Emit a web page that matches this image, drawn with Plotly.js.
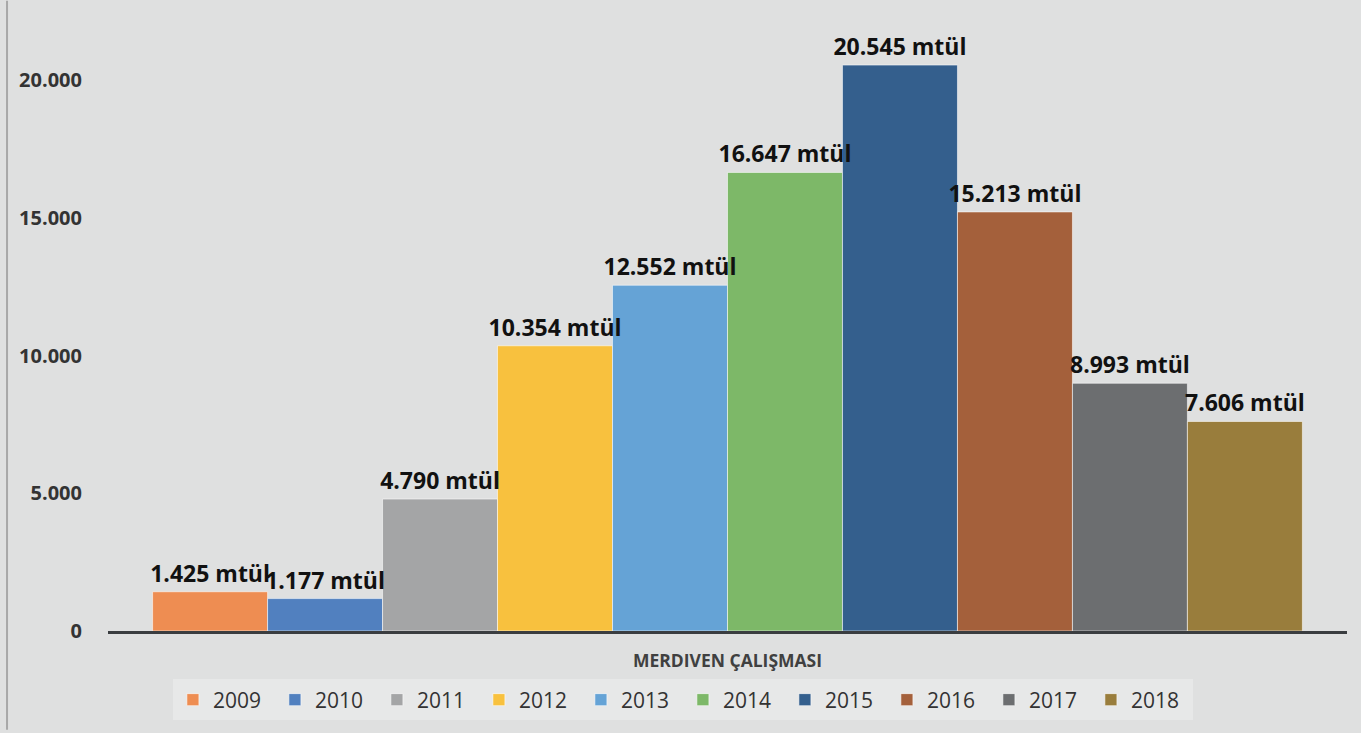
<!DOCTYPE html>
<html>
<head>
<meta charset="utf-8">
<script src="https://cdn.plot.ly/plotly-3.0.1.min.js"></script>
<style>
html,body{margin:0;padding:0;background:#e0e0e0;}
#chart{width:1361px;height:733px;}
</style>
</head>
<body>
<div id="chart"></div>
<script>
const category = ["MERDIVEN ÇALIŞMASI"];
const years = ["2009","2010","2011","2012","2013","2014","2015","2016","2017","2018"];
const values = [1425, 1177, 4790, 10354, 12552, 16647, 20545, 15213, 8993, 7606];
const labels = ["1.425 mtül","1.177 mtül","4.790 mtül","10.354 mtül","12.552 mtül","16.647 mtül","20.545 mtül","15.213 mtül","8.993 mtül","7.606 mtül"];
const colors = ["#EE8D52","#5180BF","#A4A5A6","#F8C13E","#65A3D6","#7DB868","#345F8D","#A4603B","#6C6E70","#997D3C"];
const yTickVals = [0, 5000, 10000, 15000, 20000];
const yTickText = ["0","5.000","10.000","15.000","20.000"];

// visible bars
const barTraces = years.map((y, i) => ({
  type: 'bar',
  name: y,
  x: category,
  y: [values[i]],
  marker: {color: colors[i], line: {color: 'rgba(255,255,255,0.55)', width: 1}},
  hoverinfo: 'skip'
}));

// same bars on an overlaying axis, transparent, carrying the value labels on top
const labelTraces = years.map((y, i) => ({
  type: 'bar',
  name: y,
  xaxis: 'x2',
  x: category,
  y: [values[i]],
  text: [labels[i]],
  textposition: 'outside',
  textfont: {family: 'Open Sans', size: 23, color: '#111111', weight: 700},
  constraintext: 'none',
  cliponaxis: false,
  showlegend: false,
  marker: {color: 'rgba(0,0,0,0)', line: {width: 0}},
  hoverinfo: 'skip'
}));

const layout = {
  width: 1361, height: 733,
  margin: {l: 108, r: 14, t: 25, b: 99},
  paper_bgcolor: '#dfe0e0',
  plot_bgcolor: 'rgba(0,0,0,0)',
  barmode: 'group',
  bargap: 0.072,
  bargroupgap: 0,
  font: {family: 'Open Sans', color: '#333333'},
  xaxis: {
    showline: true, linecolor: '#3a3d40', linewidth: 3,
    showgrid: false, zeroline: false,
    ticks: '', ticklabelstandoff: 12,
    tickfont: {family: 'Open Sans', size: 17.5, color: '#404040', weight: 700}
  },
  xaxis2: {
    overlaying: 'x', matches: 'x',
    showline: false, showgrid: false, zeroline: false,
    showticklabels: false, ticks: ''
  },
  yaxis: {
    range: [0, 22000],
    tickvals: yTickVals, ticktext: yTickText,
    showgrid: false, zeroline: false, showline: false,
    ticks: '', ticklabelstandoff: 25,
    tickfont: {family: 'Open Sans', size: 20, color: '#333333', weight: 700}
  },
  showlegend: true,
  legend: {
    orientation: 'h',
    x: 0.464, xanchor: 'center',
    y: -0.08, yanchor: 'top',
    bgcolor: 'rgba(236,237,236,0.6)',
    font: {family: 'Open Sans', size: 21, color: '#333333'},
    entrywidth: 57,
    traceorder: 'normal',
    itemclick: false
  },
  shapes: [{
    type: 'line', xref: 'paper', yref: 'paper',
    x0: -0.0815, x1: -0.0815, y0: -0.163, y1: 1.04,
    line: {color: '#a8a8a8', width: 2}
  }]
};

Plotly.newPlot('chart', barTraces.concat(labelTraces), layout, {displayModeBar: false, staticPlot: true});
</script>
</body>
</html>
